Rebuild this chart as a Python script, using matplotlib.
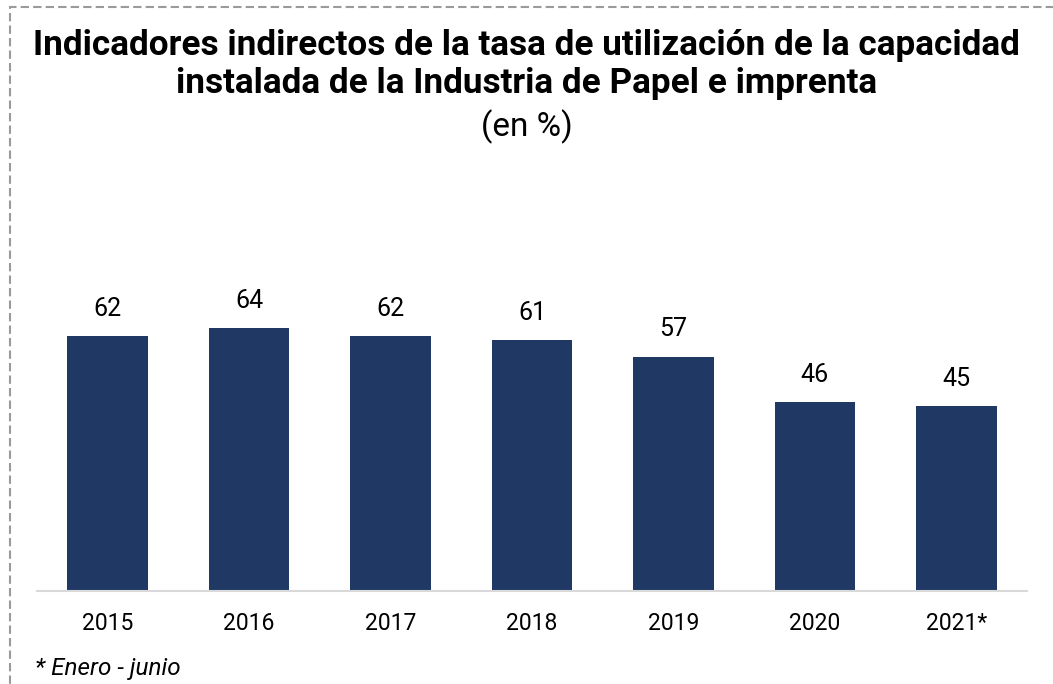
import matplotlib.pyplot as plt
import matplotlib.patches as patches

years = ['2015', '2016', '2017', '2018', '2019', '2020', '2021*']
values = [62, 64, 62, 61, 57, 46, 45]

plt.rcParams['font.family'] = ['Roboto', 'DejaVu Sans']

fig = plt.figure(figsize=(10.53, 6.84), dpi=100)
ax = fig.add_axes([0.0351, 0.1360, 0.9402, 0.6009])

x = range(len(years))
bars = ax.bar(x, values, width=0.57, color='#203864', zorder=2)
for xi, v in zip(x, values):
    ax.annotate('%d' % v, (xi, v), xytext=(0, 11), textcoords='offset points',
                ha='center', va='bottom', fontsize=18, color='#000000')

ax.set_xlim(-0.5, len(years) - 0.5)
ax.set_ylim(0, 100)
ax.set_xticks(list(x))
ax.set_xticklabels(years, fontsize=16.5)
ax.tick_params(axis='x', length=0, pad=15)
ax.set_yticks([])
for s in ['top', 'right', 'left']:
    ax.spines[s].set_visible(False)
ax.spines['bottom'].set_color('#D9D9D9')
ax.spines['bottom'].set_linewidth(1.5)

fig.text(0.5, 1 - 45 / 684, 'Indicadores indirectos de la tasa de utilización de la capacidad',
         ha='center', va='center', fontsize=25.3, fontweight='bold')
fig.text(0.5, 1 - 83 / 684, 'instalada de la Industria de Papel e imprenta',
         ha='center', va='center', fontsize=25.3, fontweight='bold')
fig.text(0.5, 1 - 127 / 684, '(en %)', ha='center', va='center', fontsize=24)
fig.text(35 / 1053, 1 - 668 / 684, '* Enero - junio', ha='left', va='center',
         fontsize=17.5, style='italic')

# dashed frame (cut off at right and bottom)
frame = patches.Rectangle((10 / 1053, -0.1), 1.2, 1 - 7 / 684 + 0.1,
                          transform=fig.transFigure, fill=False,
                          edgecolor='#9A9A9A', linewidth=1.5, linestyle=(0, (4, 2)))
fig.patches.append(frame)

fig.savefig('out.png', dpi=100)
